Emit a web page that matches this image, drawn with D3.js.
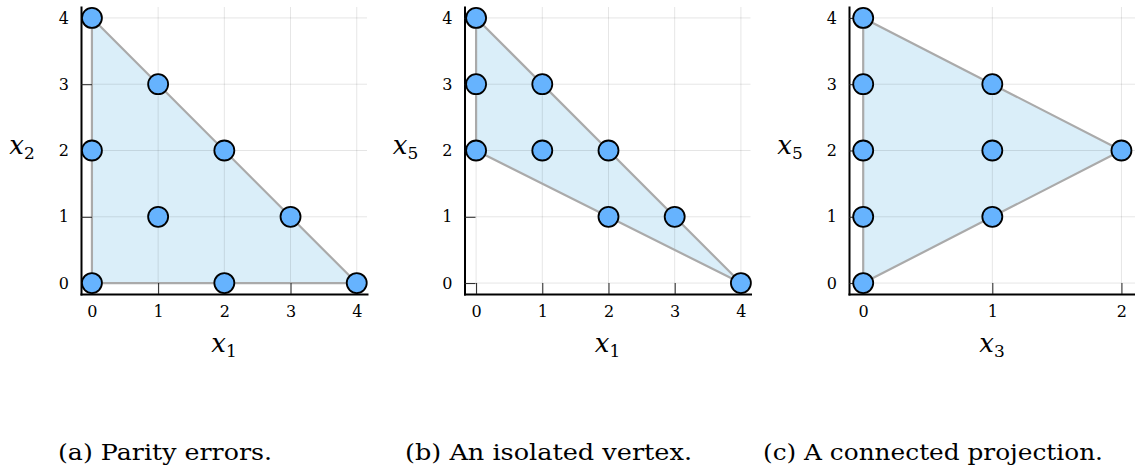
<!DOCTYPE html>
<html>
<head>
<meta charset="utf-8">
<script src="https://cdn.jsdelivr.net/npm/d3@7"></script>
<style>
  html, body { margin: 0; padding: 0; background: #fff; }
  svg { display: block; }
  text { font-family: "DejaVu Serif", serif; fill: #000; }
</style>
</head>
<body>
<svg id="fig" width="1135" height="474"></svg>
<script>
// Tick values for each panel
const ticksX_a = [0, 1, 2, 3, 4];
const ticksX_b = [0, 1, 2, 3, 4];
const ticksX_c = [0, 1, 2];
const ticksY = [0, 1, 2, 3, 4];

// Lattice points inside each polytope
const points_a = [[0,0],[0,2],[0,4],[1,1],[1,3],[2,0],[2,2],[3,1],[4,0]];
const points_b = [[0,2],[0,3],[0,4],[1,2],[1,3],[2,1],[2,2],[3,1],[4,0]];
const points_c = [[0,0],[0,1],[0,2],[0,3],[0,4],[1,1],[1,2],[1,3],[2,2]];

// Polygon vertices (convex hulls)
const hull_a = [[0,0],[4,0],[0,4]];
const hull_b = [[0,4],[4,0],[0,2]];
const hull_c = [[0,0],[2,2],[0,4]];

// Axis variable subscripts and captions
const xSubs = ["1", "1", "3"];
const ySubs = ["2", "5", "5"];
const captions = ["(a) Parity errors.", "(b) An isolated vertex.", "(c) A connected projection."];

// Layout
const serif = "'DejaVu Serif', serif";
const panelW = 286, plotTop = 7, plotBottom = 294;
const panels = [
  { left: 81,    xdom: [-0.165, 4.155], ticks: ticksX_a, pts: points_a, hull: hull_a, cap: { x: 58,  w: 214 } },
  { left: 464.5, xdom: [-0.175, 4.145], ticks: ticksX_b, pts: points_b, hull: hull_b, cap: { x: 405, w: 287 } },
  { left: 849,   xdom: [-0.11, 2.105],  ticks: ticksX_c, pts: points_c, hull: hull_c, cap: { x: 763, w: 340 } }
];

const svg = d3.select("#fig");

panels.forEach((p, i) => {
  const x = d3.scaleLinear().domain(p.xdom).range([p.left, p.left + panelW]);
  const y = d3.scaleLinear().domain([-0.165, 4.165]).range([plotBottom, plotTop]);
  const g = svg.append("g");

  // filled polytope
  const line = d3.line().x(d => x(d[0])).y(d => y(d[1]));
  g.append("path")
    .attr("d", line(p.hull) + "Z")
    .attr("fill", "#daeef9")
    .attr("stroke", "none");

  // grid
  g.selectAll(".gx").data(p.ticks).join("line")
    .attr("x1", d => x(d)).attr("x2", d => x(d))
    .attr("y1", plotBottom).attr("y2", plotTop)
    .attr("stroke", "#000").attr("stroke-opacity", 0.1).attr("stroke-width", 1);
  g.selectAll(".gy").data(ticksY).join("line")
    .attr("y1", d => y(d)).attr("y2", d => y(d))
    .attr("x1", p.left).attr("x2", p.left + panelW)
    .attr("stroke", "#000").attr("stroke-opacity", 0.1).attr("stroke-width", 1);

  // polytope boundary
  g.append("path")
    .attr("d", line(p.hull) + "Z")
    .attr("fill", "none")
    .attr("stroke", "#aaaaaa")
    .attr("stroke-width", 2.2)
    .attr("stroke-linejoin", "round");

  // axes with inward ticks
  const ax = g.append("g").attr("transform", `translate(0,${plotBottom})`)
    .call(d3.axisBottom(x).tickValues(p.ticks).tickFormat(d3.format("d"))
      .tickSizeInner(-11).tickSizeOuter(0).tickPadding(12));
  const ay = g.append("g").attr("transform", `translate(${p.left},0)`)
    .call(d3.axisLeft(y).tickValues(ticksY).tickFormat(d3.format("d"))
      .tickSizeInner(-11).tickSizeOuter(0).tickPadding(12));
  [ax, ay].forEach(a => {
    a.attr("font-family", serif).attr("font-size", 16);
    a.selectAll(".tick line").attr("stroke", "#222").attr("stroke-width", 1);
    a.select(".domain").attr("stroke", "#000").attr("stroke-width", 2).attr("stroke-linecap", "square");
  });

  // lattice points
  g.selectAll(".pt").data(p.pts).join("circle")
    .attr("cx", d => x(d[0])).attr("cy", d => y(d[1]))
    .attr("r", 10)
    .attr("fill", "#66b3fe")
    .attr("stroke", "#000")
    .attr("stroke-width", 1.8);

  // axis labels
  const xl = g.append("text")
    .attr("x", p.left + panelW / 2).attr("y", 352)
    .attr("font-family", serif)
    .attr("text-anchor", "middle");
  xl.append("tspan").attr("font-style", "italic").attr("font-size", 26).text("x");
  xl.append("tspan").attr("font-size", 17).attr("dy", 5).text(xSubs[i]);

  const yl = g.append("text")
    .attr("x", p.left - 59).attr("y", 154)
    .attr("font-family", serif)
    .attr("text-anchor", "middle");
  yl.append("tspan").attr("font-style", "italic").attr("font-size", 26).text("x");
  yl.append("tspan").attr("font-size", 17).attr("dy", 5).text(ySubs[i]);

  // caption
  svg.append("text")
    .attr("x", p.cap.x).attr("y", 460)
    .attr("font-family", serif)
    .attr("font-size", 22.5)
    .attr("textLength", p.cap.w)
    .attr("lengthAdjust", "spacingAndGlyphs")
    .text(captions[i]);
});
</script>
</body>
</html>
